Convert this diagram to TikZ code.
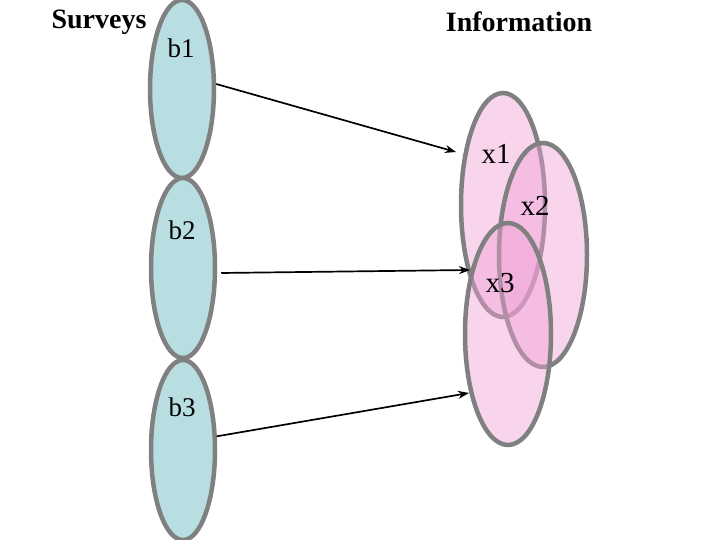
\documentclass[tikz,border=0pt]{standalone}
\usepackage{fontspec}
\setmainfont{Liberation Serif}
\usetikzlibrary{shapes.geometric,arrows.meta}
\definecolor{survfill}{RGB}{184,222,226}
\definecolor{infofill}{RGB}{240,160,214}
\definecolor{edgegray}{RGB}{128,128,128}
\tikzset{
  survey/.style={ellipse,draw=edgegray,line width=4.5pt,fill=survfill,inner sep=0pt,minimum width=64pt,minimum height=178pt},
  info/.style={ellipse,draw=edgegray,line width=4.5pt,fill=infofill,fill opacity=0.45,draw opacity=1,inner sep=0pt},
  blabel/.style={font=\fontsize{27}{29}\selectfont,inner sep=0pt},
  xlabel/.style={font=\fontsize{29}{31}\selectfont,inner sep=0pt},
  title/.style={font=\fontsize{28}{30}\selectfont\bfseries,inner sep=0pt},
  conn/.style={line width=1.7pt,-{Stealth[length=11pt,width=8pt]}}
}
\begin{document}
\begin{tikzpicture}[x=1pt,y=1pt]
\useasboundingbox (0,0) rectangle (720,540);
% surveys
\node[survey] (b1) at (182,451) {};
\node[survey,minimum height=180pt] (b2) at (183,272) {};
\node[survey,minimum height=180pt] (b3) at (183,90) {};
% information
\node[info,minimum width=84pt,minimum height=224pt] (x1) at (503,335) {};
\node[info,minimum width=88pt,minimum height=224pt] (x2) at (543,285) {};
\node[info,minimum width=86pt,minimum height=222pt] (x3) at (508,206) {};
% titles
\node[title] (ts) at (99,518) {Surveys};
\node[title] (ti) at (519,518) {Information};
% labels
\node[blabel] (lb1) at (181,492) {b1};
\node[blabel] (lb2) at (182,310) {b2};
\node[blabel] (lb3) at (182,133) {b3};
\node[xlabel] (lx1) at (496,386) {x1};
\node[xlabel] (lx2) at (535,334) {x2};
\node[xlabel] (lx3) at (500,257) {x3};
% arrow ends
\coordinate (e1) at (456,388);
\coordinate (e2) at (470,270);
\coordinate (e3) at (469,147);
\draw[conn] ([yshift=5pt]b1.east) -- (e1);
\draw[conn] ([shift={(4pt,-5pt)}]b2.east) -- (e2);
\draw[conn] (b3.22) -- (e3);
\end{tikzpicture}
\end{document}
